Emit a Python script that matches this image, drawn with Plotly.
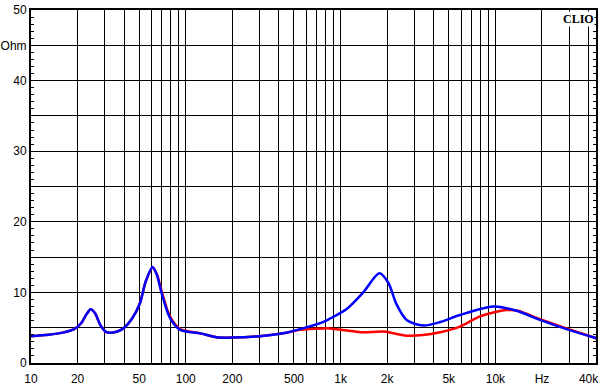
import plotly.graph_objects as go

# Frequencies (Hz) and impedance (Ohm)
blue_freq = [10, 13, 16, 19, 21, 23, 24.3, 26, 28, 30.5, 33, 36.5, 40, 45, 50.6, 55, 61, 65,
             69.8, 79, 92, 124, 158, 199, 300, 425, 547, 770, 855, 1100, 1400, 1780, 2030,
             2300, 2670, 3420, 4400, 5900, 9700, 13700, 19400, 28800, 45000]
blue_z = [3.8, 4.0, 4.3, 4.8, 5.6, 7.0, 7.6, 7.0, 5.4, 4.4, 4.3, 4.5, 5.0, 6.3, 8.5, 11.5, 13.6, 12.5,
          9.9, 6.4, 4.7, 4.2, 3.65, 3.6, 3.8, 4.2, 4.8, 5.8, 6.3, 7.7, 10.0, 12.7, 11.4,
          8.3, 6.1, 5.3, 5.8, 6.8, 8.0, 7.4, 6.1, 4.8, 3.5]

red_freq = [10, 13, 16, 19, 21, 23, 24.3, 26, 28, 30.5, 33, 36.5, 40, 45, 50.6, 55, 61, 65,
            69.8, 79, 92, 124, 158, 199, 300, 425, 547, 770, 855, 1100, 1400, 1900, 2600,
            3400, 4400, 5900, 7950, 11800, 14000, 19400, 28800, 45000]
red_z = [3.8, 4.0, 4.3, 4.8, 5.6, 7.0, 7.6, 7.0, 5.4, 4.4, 4.3, 4.5, 5.0, 6.3, 8.5, 11.5, 13.5, 12.6,
         10.2, 6.6, 4.8, 4.2, 3.65, 3.6, 3.8, 4.2, 4.7, 4.9, 4.9, 4.6, 4.35, 4.45, 3.9,
         3.95, 4.35, 5.15, 6.6, 7.5, 7.4, 6.2, 4.9, 3.5]

y_ticks = [0, 5, 10, 15, 20, 25, 30, 35, 40, 45, 50]
y_labels = ["0", "", "10", "", "20", "", "30", "", "40", "Ohm", "50"]

x_ticks = [10, 20, 30, 40, 50, 60, 70, 80, 90,
           100, 200, 300, 400, 500, 600, 700, 800, 900,
           1000, 2000, 3000, 4000, 5000, 6000, 7000, 8000, 9000,
           10000, 20000, 30000, 40000]
x_labels = ["10", "20", "", "", "50", "", "", "", "",
            "100", "200", "", "", "500", "", "", "", "",
            "1k", "2k", "", "", "5k", "", "", "", "",
            "10k", "Hz", "", "40k"]

fig = go.Figure()
fig.add_trace(go.Scatter(x=red_freq, y=red_z, mode="lines",
                         line=dict(color="#ff0000", width=2.5, shape="spline", smoothing=0.8),
                         hoverinfo="skip", showlegend=False))
fig.add_trace(go.Scatter(x=blue_freq, y=blue_z, mode="lines",
                         line=dict(color="#0000ff", width=2.5, shape="spline", smoothing=0.8),
                         hoverinfo="skip", showlegend=False))

fig.update_layout(
    width=606, height=389,
    margin=dict(l=31, r=10, t=10, b=26, autoexpand=False),
    paper_bgcolor="white", plot_bgcolor="white",
    font=dict(family="Liberation Sans, Arial, sans-serif", size=12, color="black"),
    xaxis=dict(type="log", range=[1, 4.65], tickmode="array", tickvals=x_ticks, ticktext=x_labels,
               showgrid=True, gridcolor="black", gridwidth=1, zeroline=False,
               showline=True, linecolor="black", linewidth=2, mirror=True, automargin=False,
               ticks="", ticklabelstandoff=4, tickfont=dict(size=12, color="black")),
    yaxis=dict(range=[0, 50], tickmode="array", tickvals=y_ticks, ticktext=y_labels,
               showgrid=True, gridcolor="black", gridwidth=1, zeroline=False,
               showline=True, linecolor="black", linewidth=2, mirror="ticks", automargin=False,
               ticks="inside", ticklen=4, tickcolor="black",
               minor=dict(dtick=1, ticks="inside", ticklen=3, tickcolor="black", showgrid=False),
               tickfont=dict(size=12, color="black")),
    annotations=[dict(text="<b>CLIO</b>", xref="paper", yref="paper", x=0.998, y=0.997,
                      xanchor="right", yanchor="top", showarrow=False, bgcolor="white",
                      borderpad=0,
                      font=dict(family="Liberation Serif, Times New Roman, serif", size=12, color="black"))],
)

fig.write_html("out.html", config={"displayModeBar": False, "staticPlot": True},
               post_script="document.body.style.margin='0';document.body.style.overflow='hidden';")
